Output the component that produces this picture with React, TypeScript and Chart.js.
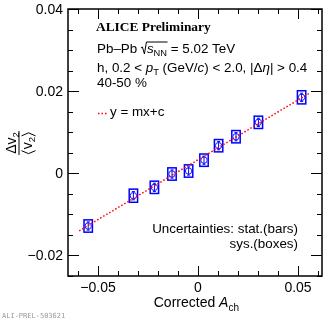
import React, { useEffect, useRef } from 'react';
import { Chart, registerables } from 'chart.js';

Chart.register(...registerables);

// ---------- data ----------
const achValues = [-0.0549, -0.0323, -0.0218, -0.0130, -0.0047, 0.0030, 0.0103, 0.0190, 0.0302, 0.0518];
const dv2Values = [-0.01283, -0.00545, -0.00341, -0.00017, 0.00056, 0.0032, 0.00672, 0.00891, 0.01241, 0.0185];
const statErrors = [0.0010, 0.0010, 0.0010, 0.0010, 0.0010, 0.0010, 0.0010, 0.0010, 0.0010, 0.0010];
const sysErrors = [0.0015, 0.0016, 0.0015, 0.0015, 0.0015, 0.0015, 0.0015, 0.0015, 0.0015, 0.0016];
const sysHalfWidth = 0.0021;
const fitX = [-0.0594, 0.0560];
const fitY = [-0.0140, 0.0196];
const xTickValues = [-0.05, 0, 0.05];
const yTickValues = [-0.02, 0, 0.02, 0.04];
const xRange = [-0.065, 0.062];
const yRange = [-0.025, 0.04];

const SANS = '"Liberation Sans", Arial, Helvetica, sans-serif';
const SERIF = '"Liberation Serif", "Times New Roman", serif';

type Seg = { t: string; f: string; dy?: number };

function segWidth(ctx: CanvasRenderingContext2D, segs: Seg[]) {
  let w = 0;
  for (const s of segs) {
    ctx.font = s.f;
    w += ctx.measureText(s.t).width;
  }
  return w;
}

function rich(ctx: CanvasRenderingContext2D, x: number, y: number, segs: Seg[]) {
  let cx = x;
  for (const s of segs) {
    ctx.font = s.f;
    ctx.fillText(s.t, cx, y + (s.dy || 0));
    cx += ctx.measureText(s.t).width;
  }
  return cx;
}

function fmt(v: number) {
  if (Math.abs(v) < 1e-12) return '0';
  const s = Math.abs(v).toFixed(2);
  return (v < 0 ? '\u2212' : '') + s;
}

const rootPlugin = {
  id: 'rootStyle',
  beforeDatasetsDraw(chart: any) {
    const ctx: CanvasRenderingContext2D = chart.ctx;
    const xs = chart.scales.x;
    const ys = chart.scales.y;
    ctx.save();
    ctx.strokeStyle = '#0000ff';
    ctx.lineWidth = 1.5;
    for (let i = 0; i < achValues.length; i++) {
      const x0 = xs.getPixelForValue(achValues[i] - sysHalfWidth);
      const x1 = xs.getPixelForValue(achValues[i] + sysHalfWidth);
      const y0 = ys.getPixelForValue(dv2Values[i] + sysErrors[i]);
      const y1 = ys.getPixelForValue(dv2Values[i] - sysErrors[i]);
      ctx.strokeRect(x0, y0, x1 - x0, y1 - y0);
      const xc = xs.getPixelForValue(achValues[i]);
      const s0 = ys.getPixelForValue(dv2Values[i] + statErrors[i]);
      const s1 = ys.getPixelForValue(dv2Values[i] - statErrors[i]);
      ctx.lineWidth = 1;
      ctx.beginPath();
      ctx.moveTo(xc, s0);
      ctx.lineTo(xc, s1);
      ctx.moveTo(xc - 1.5, s0);
      ctx.lineTo(xc + 1.5, s0);
      ctx.moveTo(xc - 1.5, s1);
      ctx.lineTo(xc + 1.5, s1);
      ctx.stroke();
      ctx.lineWidth = 1.5;
    }
    ctx.restore();
  },
  afterDraw(chart: any) {
    const ctx: CanvasRenderingContext2D = chart.ctx;
    const a = chart.chartArea;
    const xs = chart.scales.x;
    const ys = chart.scales.y;
    ctx.save();
    ctx.strokeStyle = '#000';
    ctx.fillStyle = '#000';
    ctx.lineWidth = 1.5;
    ctx.strokeRect(a.left, a.top, a.right - a.left, a.bottom - a.top);

    ctx.lineWidth = 1;
    ctx.beginPath();
    for (let i = Math.ceil(xRange[0] / 0.01 - 1e-6); i * 0.01 <= xRange[1] + 1e-9; i++) {
      const v = i * 0.01;
      const major = i % 5 === 0;
      const px = Math.round(xs.getPixelForValue(v)) + 0.5;
      const L = major ? 10 : 5;
      ctx.moveTo(px, a.bottom);
      ctx.lineTo(px, a.bottom - L);
      ctx.moveTo(px, a.top);
      ctx.lineTo(px, a.top + L);
    }
    for (let i = Math.ceil(yRange[0] / 0.005 - 1e-6); i * 0.005 <= yRange[1] + 1e-9; i++) {
      const v = i * 0.005;
      const major = i % 4 === 0;
      const py = Math.round(ys.getPixelForValue(v)) + 0.5;
      const L = major ? 11 : 5;
      ctx.moveTo(a.left, py);
      ctx.lineTo(a.left + L, py);
      ctx.moveTo(a.right, py);
      ctx.lineTo(a.right - L, py);
    }
    ctx.stroke();

    ctx.font = `14px ${SANS}`;
    ctx.textBaseline = 'alphabetic';
    ctx.textAlign = 'center';
    for (const v of xTickValues) {
      ctx.fillText(fmt(v), xs.getPixelForValue(v), 292);
    }
    ctx.textAlign = 'right';
    for (const v of yTickValues) {
      ctx.fillText(fmt(v), 63, ys.getPixelForValue(v) + 5);
    }
    ctx.textAlign = 'left';

    const xt: Seg[] = [
      { t: 'Corrected ', f: `14px ${SANS}` },
      { t: 'A', f: `italic 14px ${SANS}` },
      { t: 'ch', f: `10px ${SANS}`, dy: 4 },
    ];
    const xtw = segWidth(ctx, xt);
    rich(ctx, 239 - xtw, 307, xt);

    ctx.save();
    ctx.translate(19, 143);
    ctx.rotate(-Math.PI / 2);
    const num: Seg[] = [
      { t: '\u0394v', f: `14px ${SANS}` },
      { t: '2', f: `9.5px ${SANS}`, dy: 3 },
    ];
    const nw = segWidth(ctx, num);
    rich(ctx, -nw / 2, -3, num);
    ctx.lineWidth = 1;
    ctx.beginPath();
    ctx.moveTo(-12, 0);
    ctx.lineTo(12, 0);
    ctx.stroke();
    const den: Seg[] = [
      { t: 'v', f: `14px ${SANS}` },
      { t: '2', f: `9.5px ${SANS}`, dy: 3 },
    ];
    const dw = segWidth(ctx, den);
    const d0 = -dw / 2;
    rich(ctx, d0, 13, den);
    ctx.beginPath();
    ctx.moveTo(d0 - 1.5, 2.5);
    ctx.lineTo(d0 - 4.5, 9.5);
    ctx.lineTo(d0 - 1.5, 16.5);
    ctx.moveTo(d0 + dw + 1, 2.5);
    ctx.lineTo(d0 + dw + 4, 9.5);
    ctx.lineTo(d0 + dw + 1, 16.5);
    ctx.stroke();
    ctx.restore();

    ctx.font = `bold 13.4px ${SERIF}`;
    ctx.fillText('ALICE Preliminary', 96, 31);

    const f13 = `13.4px ${SANS}`;
    const i13 = `italic 13.4px ${SANS}`;
    const s9 = `9.3px ${SANS}`;
    let cx = rich(ctx, 97, 53, [{ t: 'Pb\u2013Pb ', f: f13 }]);
    const by = 53;
    ctx.lineWidth = 1;
    ctx.beginPath();
    ctx.moveTo(cx, by - 5);
    ctx.lineTo(cx + 1.5, by - 6);
    ctx.lineTo(cx + 3.5, by + 1);
    ctx.lineTo(cx + 5.5, by - 11);
    const sx = cx + 6;
    const ex = rich(ctx, sx, by, [
      { t: 's', f: i13 },
      { t: 'NN', f: s9, dy: 3 },
    ]);
    ctx.lineTo(ex + 0.5, by - 11);
    ctx.stroke();
    rich(ctx, ex, by, [{ t: ' = 5.02 TeV', f: f13 }]);

    rich(ctx, 97, 72, [
      { t: 'h, 0.2 < ', f: f13 },
      { t: 'p', f: i13 },
      { t: 'T', f: s9, dy: 3 },
      { t: ' (GeV/', f: f13 },
      { t: 'c', f: i13 },
      { t: ') < 2.0, |\u0394', f: f13 },
      { t: '\u03b7', f: i13 },
      { t: '| > 0.4', f: f13 },
    ]);
    ctx.font = f13;
    ctx.fillText('40-50 %', 97, 87);

    ctx.strokeStyle = '#ff0000';
    ctx.lineWidth = 1.5;
    ctx.setLineDash([1.5, 2]);
    ctx.beginPath();
    ctx.moveTo(98, 113.5);
    ctx.lineTo(108, 113.5);
    ctx.stroke();
    ctx.setLineDash([]);
    ctx.fillStyle = '#000';
    ctx.font = f13;
    ctx.fillText('y = mx+c', 110, 116);

    ctx.textAlign = 'right';
    ctx.fillText('Uncertainties: stat.(bars)', 298, 233);
    ctx.fillText('sys.(boxes)', 298, 248);

    ctx.textAlign = 'left';
    ctx.fillStyle = '#999';
    ctx.font = `7px "DejaVu Sans Mono", monospace`;
    ctx.fillText('ALI-PREL-503621', 2, 318);
    ctx.restore();
  },
};

export default function App() {
  const ref = useRef<HTMLCanvasElement>(null);
  useEffect(() => {
    document.body.style.margin = '0';
    const chart = new Chart(ref.current as HTMLCanvasElement, {
      type: 'scatter',
      data: {
        datasets: [
          {
            label: 'y = mx+c',
            data: fitX.map((x, i) => ({ x, y: fitY[i] })),
            showLine: true,
            borderColor: '#ff0000',
            borderWidth: 1.5,
            borderDash: [1.5, 2],
            pointRadius: 0,
            fill: false,
          } as any,
          {
            label: 'data',
            data: achValues.map((x, i) => ({ x, y: dv2Values[i] })),
            pointStyle: 'circle',
            pointRadius: 3.2,
            pointBorderWidth: 1,
            borderColor: '#1a1aff',
            backgroundColor: 'rgba(0,0,0,0)',
          },
        ],
      },
      options: {
        responsive: false,
        animation: false,
        layout: { padding: { top: 9, right: 10, left: 0, bottom: 0 } },
        plugins: { legend: { display: false }, tooltip: { enabled: false } },
        scales: {
          x: {
            type: 'linear',
            min: xRange[0],
            max: xRange[1],
            grid: { display: false, drawTicks: false },
            border: { display: false },
            ticks: { display: false },
            afterFit: (s: any) => {
              s.height = 44;
            },
          },
          y: {
            type: 'linear',
            min: yRange[0],
            max: yRange[1],
            grid: { display: false, drawTicks: false },
            border: { display: false },
            ticks: { display: false },
            afterFit: (s: any) => {
              s.width = 68;
            },
          },
        },
      },
      plugins: [rootPlugin],
    });
    return () => chart.destroy();
  }, []);
  return (
    <div style={{ position: 'relative', width: 332, height: 320 }}>
      <canvas ref={ref} width={332} height={320} style={{ display: 'block' }} />
    </div>
  );
}
